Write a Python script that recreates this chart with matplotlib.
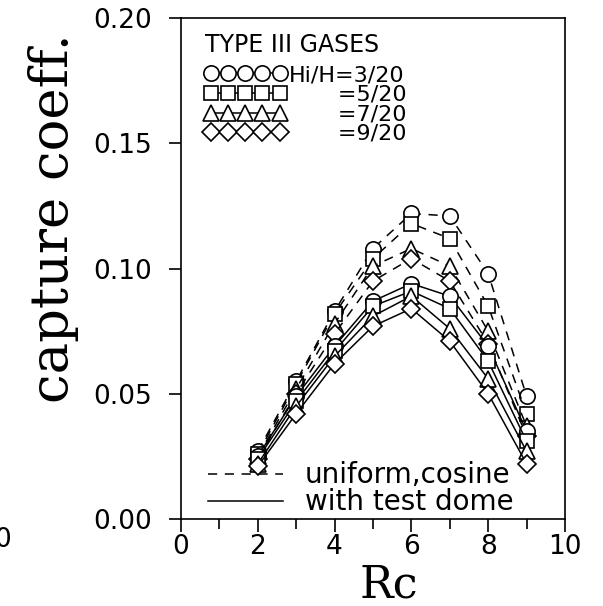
import matplotlib
matplotlib.use("Agg")
from matplotlib import pyplot as plt
from matplotlib.lines import Line2D

# Rc values
rc = [2, 3, 4, 5, 6, 7, 8, 9]

# uniform, cosine (dashed)
dash_c = [0.027, 0.055, 0.083, 0.108, 0.122, 0.121, 0.098, 0.049]
dash_s = [0.026, 0.054, 0.082, 0.104, 0.118, 0.112, 0.085, 0.042]
dash_t = [0.025, 0.052, 0.078, 0.101, 0.108, 0.101, 0.075, 0.037]
dash_d = [0.024, 0.050, 0.074, 0.095, 0.104, 0.095, 0.070, 0.033]

# with test dome (solid)
sol_c = [0.025, 0.049, 0.069, 0.087, 0.094, 0.089, 0.069, 0.035]
sol_s = [0.024, 0.047, 0.067, 0.085, 0.091, 0.084, 0.063, 0.031]
sol_t = [0.022, 0.045, 0.065, 0.081, 0.089, 0.076, 0.056, 0.027]
sol_d = [0.021, 0.042, 0.062, 0.077, 0.084, 0.071, 0.050, 0.022]

markers = ['o', 's', '^', 'D']
ratios = ['Hi/H=3/20', '       =5/20', '       =7/20', '       =9/20']
msizes = [11, 10, 11, 9]

fig = plt.figure(figsize=(6.03, 6.06), dpi=100)
ax = fig.add_axes([0.300, 0.1436, 0.637, 0.8264])

style = dict(color='k', lw=1.1, mfc='w', mec='k', mew=1.2)
for ys, m, ms in zip([dash_c, dash_s, dash_t, dash_d], markers, msizes):
    ax.plot(rc, ys, marker=m, ms=ms, ls=(0, (6, 5)), **style)
for ys, m, ms in zip([sol_c, sol_s, sol_t, sol_d], markers, msizes):
    ax.plot(rc, ys, marker=m, ms=ms, ls='-', **style)

ax.set_xlim(0, 10)
ax.set_ylim(0, 0.20)
ax.set_xticks([0, 2, 4, 6, 8, 10])
ax.set_xticks([1, 3, 5, 7, 9], minor=True)
ax.set_yticks([0.00, 0.05, 0.10, 0.15, 0.20])
ax.set_yticklabels(['0.00', '0.05', '0.10', '0.15', '0.20'])
ax.tick_params(axis='x', which='major', direction='out', length=9, width=1.2, pad=2, labelsize=19)
ax.tick_params(axis='x', which='minor', direction='out', length=7, width=1.2)
ax.tick_params(axis='y', which='major', direction='out', length=8.5, width=1.2, pad=12, labelsize=19)
for sp in ax.spines.values():
    sp.set_linewidth(1.2)

ax.set_xlabel('Rc', family='DejaVu Serif', fontsize=32, va='top')
ax.xaxis.set_label_coords(0.54, -0.088)
ax.set_ylabel('capture coeff.', family='DejaVu Serif', fontsize=38)
ax.yaxis.set_label_coords(-0.265, 0.60)

ax.text(0.062, 0.97, 'TYPE III GASES', transform=ax.transAxes,
        fontsize=17, va='top', ha='left')

# legend for the gap ratios
h1 = [Line2D([], [], marker=m, ms=ms, ls='-', **style) for m, ms in zip(markers, msizes)]
leg1 = ax.legend(h1, ratios, loc='upper left', bbox_to_anchor=(0.06, 0.906),
                 frameon=False, numpoints=5, handlelength=3.7, handletextpad=0.1,
                 labelspacing=-0.02, borderpad=0, borderaxespad=0, fontsize=16)
ax.add_artist(leg1)

# legend for the line styles
h2 = [Line2D([], [], color='k', lw=1.1, ls=(0, (6, 5))),
      Line2D([], [], color='k', lw=1.1, ls='-')]
ax.legend(h2, ['uniform,cosine', 'with test dome'], loc='lower left',
          bbox_to_anchor=(0.07, 0.005), frameon=False, handlelength=2.7,
          handletextpad=0.8, labelspacing=-0.03, borderpad=0, borderaxespad=0,
          fontsize=20)

# clipped tick label of the neighbouring panel
fig.text(0.004, 1 - 540 / 606, '0', fontsize=19, ha='center', va='center')

fig.savefig('out.png', dpi=100)
